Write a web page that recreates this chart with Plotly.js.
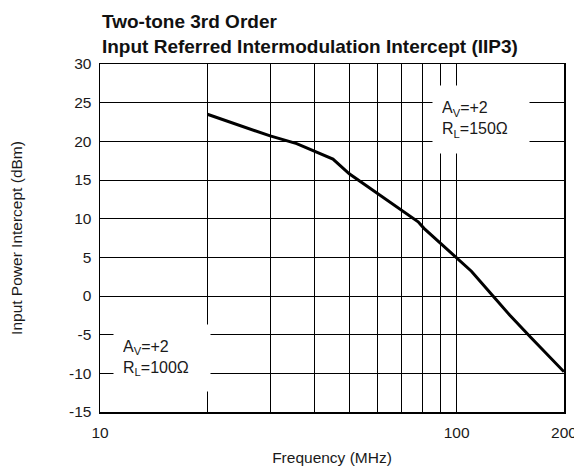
<!DOCTYPE html>
<html>
<head>
<meta charset="utf-8">
<script src="https://cdn.plot.ly/plotly-3.0.1.min.js"></script>
<style>
html,body{margin:0;padding:0;background:#fff;}
#chart{width:574px;height:474px;}
</style>
</head>
<body>
<div id="chart"></div>
<script>
// Frequency (MHz) and input-referred IP3 (dBm)
var freq = [20, 30, 35.6, 40, 45, 50, 64, 69, 78, 81, 100, 110, 127, 141, 161, 200];
var iip3 = [23.5, 20.7, 19.7, 18.75, 17.7, 15.8, 12.4, 11.3, 9.6, 8.75, 5.0, 3.2, -0.1, -2.5, -5.3, -9.8];

var xTickVals = [10, 100, 200];
var xTickText = ['10', '100', '200'];
var xMinorGrid = [20, 30, 40, 50, 60, 70, 80, 90];
var yTickVals = [-15, -10, -5, 0, 5, 10, 15, 20, 25, 30];
var yTickText = ['-15', '-10', '-5', '0', '5', '10', '15', '20', '25', '30'];

var titleText = 'Two-tone 3rd Order<br>Input Referred Intermodulation Intercept (IIP3)';
var xTitle = 'Frequency (MHz)';
var yTitle = 'Input Power Intercept (dBm)';
var note150 = 'A<sub>V</sub>=+2<br>R<sub>L</sub>=150Ω';
var note100 = 'A<sub>V</sub>=+2<br>R<sub>L</sub>=100Ω';

var font = 'Liberation Sans, Arial, Helvetica, sans-serif';

var trace = {
  x: freq, y: iip3, type: 'scatter', mode: 'lines',
  line: {color: '#000', width: 3},
  hoverinfo: 'skip'
};

var layout = {
  width: 574, height: 474,
  margin: {l: 100, r: 10, t: 64, b: 62},
  paper_bgcolor: '#fff', plot_bgcolor: '#fff',
  showlegend: false,
  font: {family: font, size: 15.5, color: '#1a1a1a'},
  title: {
    text: titleText,
    font: {family: font, size: 19, color: '#111', weight: 'bold'},
    x: 0.0043, xref: 'paper', xanchor: 'left',
    y: 1 - 28/474, yref: 'container', yanchor: 'top'
  },
  xaxis: {
    type: 'log',
    range: [1, Math.log10(200)],
    tickmode: 'array', tickvals: xTickVals, ticktext: xTickText,
    ticks: '', showgrid: true, gridcolor: '#000', gridwidth: 1,
    minor: {tickmode: 'array', tickvals: xMinorGrid, showgrid: true, gridcolor: '#000', gridwidth: 1, ticks: ''},
    showline: true, linecolor: '#000', linewidth: 1.5, mirror: true,
    zeroline: false,
    ticklabelstandoff: 6,
    ticklabeloverflow: 'allow',
    tickfont: {size: 15.5},
    title: {text: xTitle, font: {size: 15.5}, standoff: 12}
  },
  yaxis: {
    range: [-15, 30],
    tickmode: 'array', tickvals: yTickVals, ticktext: yTickText,
    ticks: '', showgrid: true, gridcolor: '#000', gridwidth: 1,
    showline: true, linecolor: '#000', linewidth: 1.5, mirror: true,
    zeroline: false,
    ticklabelstandoff: 4,
    tickfont: {size: 15.5},
    title: {text: yTitle, font: {size: 15.5}, standoff: 42}
  },
  annotations: [
    {
      xref: 'paper', yref: 'paper', x: 0.8211, y: 0.8405,
      xanchor: 'center', yanchor: 'middle',
      text: note150, showarrow: false, align: 'left', valign: 'middle',
      width: 78, height: 49, borderpad: 9, bgcolor: '#fff',
      font: {size: 16, color: '#1a1a1a'}
    },
    {
      xref: 'paper', yref: 'paper', x: 0.1336, y: 0.1552,
      xanchor: 'center', yanchor: 'middle',
      text: note100, showarrow: false, align: 'left', valign: 'middle',
      width: 78, height: 48, borderpad: 9, bgcolor: '#fff',
      font: {size: 16, color: '#1a1a1a'}
    }
  ]
};

Plotly.newPlot('chart', [trace], layout, {displayModeBar: false, staticPlot: true});
</script>
</body>
</html>
